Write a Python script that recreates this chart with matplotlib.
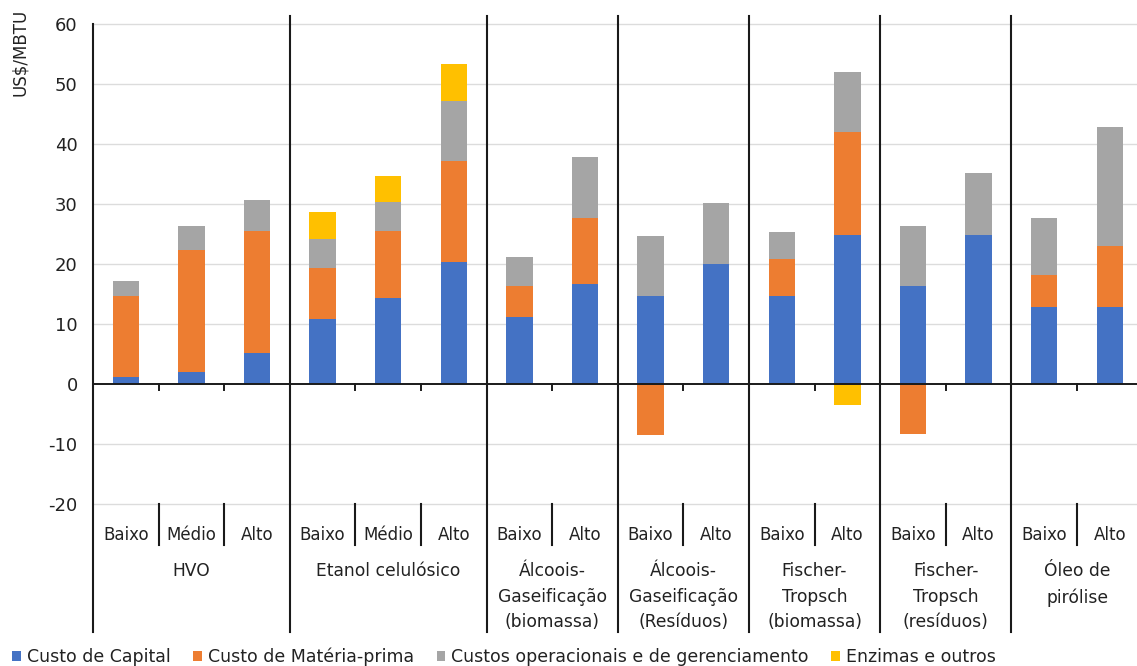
import matplotlib
matplotlib.use("Agg")
import matplotlib.pyplot as plt
import numpy as np

plt.rcParams['font.family'] = ['DejaVu Sans']
plt.rcParams['axes.unicode_minus'] = False

# Cost breakdown per route and scenario (US$/MBTU)
groups = ["HVO", "Etanol celulósico", "Álcoois-\nGaseificação\n(biomassa)",
          "Álcoois-\nGaseificação\n(Resíduos)", "Fischer-\nTropsch\n(biomassa)",
          "Fischer-\nTropsch\n(resíduos)", "Óleo de\npirólise"]
group_sizes = [3, 3, 2, 2, 2, 2, 2]
scenarios = ["Baixo", "Médio", "Alto", "Baixo", "Médio", "Alto", "Baixo", "Alto",
             "Baixo", "Alto", "Baixo", "Alto", "Baixo", "Alto", "Baixo", "Alto"]

capital = [1.2, 2.0, 5.1, 10.8, 14.3, 20.3, 11.2, 16.6,
           14.6, 20.0, 14.6, 24.9, 16.3, 24.9, 12.8, 12.8]
feedstock = [13.5, 20.3, 20.4, 8.6, 11.2, 16.9, 5.1, 11.1,
             -8.5, 0.0, 6.2, 17.1, -8.4, 0.0, 5.3, 10.2]
operating = [2.5, 4.0, 5.2, 4.8, 4.8, 10.0, 4.8, 10.1,
             10.0, 10.2, 4.5, 10.0, 10.1, 10.2, 9.5, 19.8]
enzymes = [0.0, 0.0, 0.0, 4.5, 4.4, 6.1, 0.0, 0.0,
           0.0, 0.0, 0.0, -3.5, 0.0, 0.0, 0.0, 0.0]

series_names = ["Custo de Capital", "Custo de Matéria-prima",
                "Custos operacionais e de gerenciamento", "Enzimas e outros"]
series_values = [capital, feedstock, operating, enzymes]
colors = ["#4472C4", "#ED7D31", "#A5A5A5", "#FFC000"]

W, H = 1137, 666
fig = plt.figure(figsize=(W / 100, H / 100), dpi=100)
ax = fig.add_axes([93 / W, 1 - 504 / H, (1142.6 - 93) / W, (504 - 24) / H])

n = len(scenarios)
x = np.arange(n) + 0.5
pos_base = np.zeros(n)
neg_base = np.zeros(n)
handles = []
for name, vals, col in zip(series_names, series_values, colors):
    v = np.array(vals, dtype=float)
    bottoms = np.where(v >= 0, pos_base, neg_base)
    h = ax.bar(x, v, width=0.40, bottom=bottoms, color=col, label=name, zorder=3)
    handles.append(h)
    pos_base = pos_base + np.where(v > 0, v, 0)
    neg_base = neg_base + np.where(v < 0, v, 0)

ax.set_xlim(0, n)
ax.set_ylim(-20, 60)
ax.set_yticks(np.arange(-20, 61, 10))
ax.tick_params(axis='y', length=0, pad=11, labelsize=13, colors='#222222')
ax.set_xticks([])
for s in ax.spines.values():
    s.set_visible(False)
for yv in np.arange(-20, 61, 10):
    if yv != 0:
        ax.axhline(yv, color='#DCDCDC', lw=1.0, zorder=1, clip_on=False)
ax.axhline(0, color='#1a1a1a', lw=1.4, zorder=4)

# small ticks on the zero line between bars
for b in range(1, n):
    ax.plot([b, b], [0, -1.0], color='#1a1a1a', lw=1.4, clip_on=False, zorder=4)

# group separators and category axis
edges = np.concatenate([[0], np.cumsum(group_sizes)])
ax.plot([0, 0], [60, -41.3], color='#1a1a1a', lw=1.5, clip_on=False, zorder=5)
for e in edges[1:-1]:
    ax.plot([e, e], [61.3, -41.3], color='#1a1a1a', lw=1.5, clip_on=False, zorder=5)
for b in range(1, n):
    if b not in edges:
        ax.plot([b, b], [-20, -26.8], color='#1a1a1a', lw=1.5, clip_on=False, zorder=5)

for xi, lab in zip(x, scenarios):
    ax.text(xi, -25.2, lab, ha='center', va='center', fontsize=12, color='#222222',
            clip_on=False)
for g, (a, b) in zip(groups, zip(edges[:-1], edges[1:])):
    ax.text((a + b) / 2, -29.75, g, ha='center', va='top', fontsize=12.3,
            color='#222222', linespacing=1.52, clip_on=False)

fig.text(20 / W, 1 - 52 / H, "US$/MBTU", rotation=90, ha='center', va='center',
         fontsize=12, color='#222222')

fig.legend(handles=handles, labels=series_names, loc='center',
           bbox_to_anchor=(504 / W, 1 - 657 / H), ncol=4, frameon=False,
           fontsize=12.5, handlelength=0.5, handleheight=0.5, handletextpad=0.35,
           columnspacing=1.3, labelcolor='#222222')

fig.savefig("out.png", dpi=100, facecolor='white')
